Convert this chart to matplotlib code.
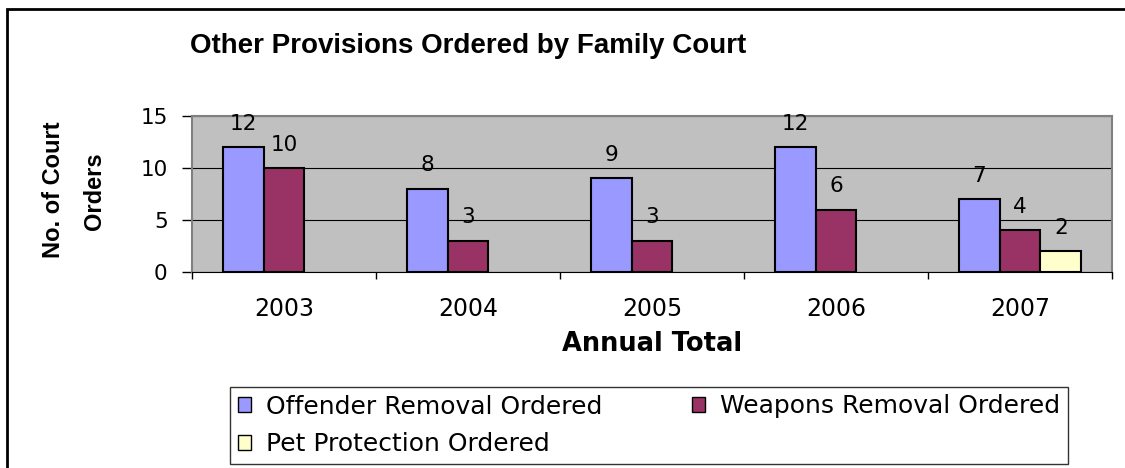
import matplotlib.pyplot as plt
import matplotlib.patches as mpatches
import numpy as np

plt.rcParams['font.family'] = ['DejaVu Sans']

######### DATA #########
years = ['2003', '2004', '2005', '2006', '2007']
offender = [12, 8, 9, 12, 7]
weapons = [10, 3, 3, 6, 4]
pet = [np.nan, np.nan, np.nan, np.nan, 2]

series_names = ['Offender Removal Ordered', 'Weapons Removal Ordered', 'Pet Protection Ordered']
series_colors = ['#9999FF', '#993366', '#FFFFCC']

W, H = 1125, 468

def fx(px):
    return px / W

def fy(py):
    return 1 - py / H

######### PLOT #########
fig = plt.figure(figsize=(W / 100, H / 100), dpi=100)
ax = fig.add_axes([fx(192), fy(272), fx(920), 156 / H])
ax.set_facecolor('#C0C0C0')

x = np.arange(len(years))
w = 0.222
handles = []
for i, (vals, name, col) in enumerate(zip([offender, weapons, pet], series_names, series_colors)):
    pos = x + (i - 1) * w
    h = ax.bar(pos, vals, width=w, color=col, edgecolor='black', linewidth=1.5, label=name, zorder=3)
    handles.append(h)
    for px, v in zip(pos, vals):
        if not np.isnan(v):
            ax.annotate('%d' % v, (px, v), xytext=(0, 12.5), textcoords='offset points',
                        ha='center', va='baseline', fontsize=15.5, zorder=4)

ax.set_xlim(-0.5, len(years) - 0.5)
ax.set_ylim(0, 15)
ax.set_yticks([0, 5, 10, 15])
ax.yaxis.grid(True, color='black', linewidth=0.8, zorder=1)
ax.set_axisbelow(True)
ax.set_xticks(x)
ax.set_xticklabels(years)
ax.set_xticks(np.arange(-0.5, len(years)), minor=True)
ax.tick_params(axis='x', which='major', length=0, labelsize=17, pad=18)
ax.tick_params(axis='x', which='minor', length=5, width=1, color='black')
ax.tick_params(axis='y', length=7, width=1, labelsize=15.5, pad=10.5)
for side in ['top', 'right', 'left']:
    ax.spines[side].set_color('#808080')
    ax.spines[side].set_linewidth(1.5)
ax.spines['bottom'].set_color('black')

fig.text(fx(468), fy(53), 'Other Provisions Ordered by Family Court',
         ha='center', va='baseline', fontsize=20, fontweight='bold', family='Liberation Sans')
fig.text(fx(652), fy(344), 'Annual Total', ha='center', va='center',
         fontsize=18.5, fontweight='bold')
fig.text(fx(53), fy(190), 'No. of Court', ha='center', va='center',
         fontsize=17, fontweight='bold', rotation=90, family='Liberation Sans')
fig.text(fx(95), fy(191), 'Orders', ha='center', va='center',
         fontsize=17, fontweight='bold', rotation=90, family='Liberation Sans')

# legend filled row by row: Offender, Weapons / Pet
order = [0, 2, 1]
leg = fig.legend([handles[k] for k in order], [series_names[k] for k in order],
                 loc='upper left', bbox_to_anchor=(fx(230), fy(387), fx(838), 0.0),
                 mode='expand', ncol=2, fontsize=18, frameon=True, fancybox=False,
                 handlelength=0.55, handleheight=0.55, handletextpad=0.6, borderpad=0.3,
                 labelspacing=0.55, columnspacing=1.0, borderaxespad=0)
leg.get_frame().set_edgecolor('black')
leg.get_frame().set_linewidth(1)
for p in leg.get_patches():
    p.set_linewidth(1)

fig.patches.append(mpatches.Rectangle((fx(7), -0.05), 1.2, fy(9) + 0.05,
                                      transform=fig.transFigure, fill=False,
                                      edgecolor='black', linewidth=2))

fig.savefig('out.png', dpi=100)
